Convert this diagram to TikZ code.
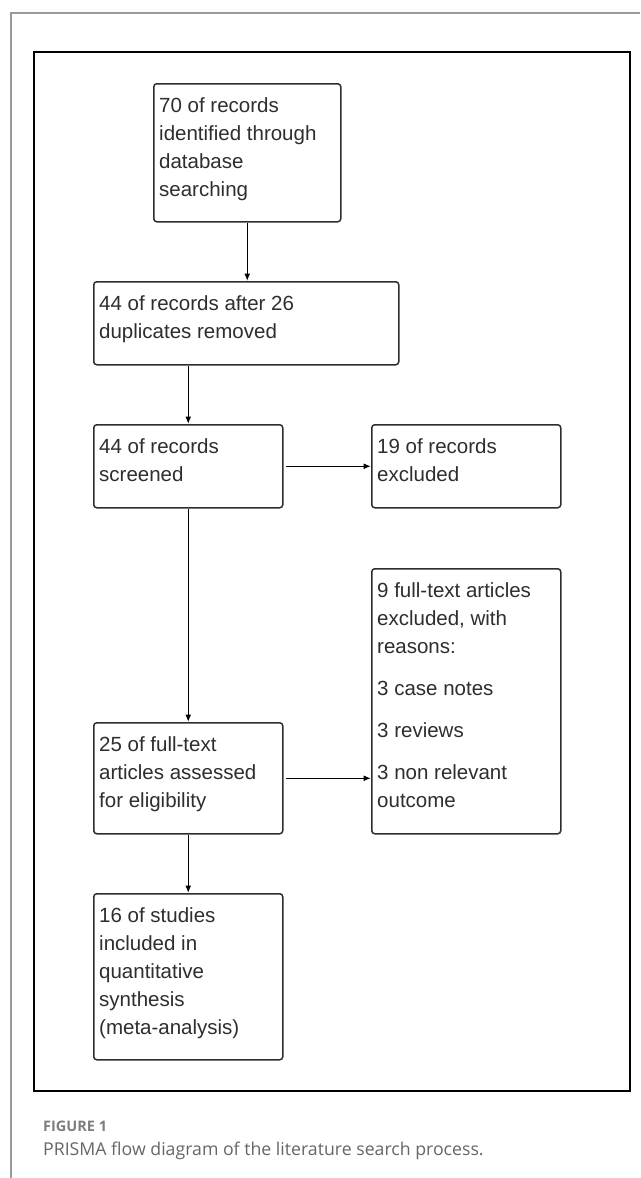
\documentclass[tikz,border=0pt]{standalone}
\usepackage{fontspec}
\setmainfont{Liberation Sans}
\newfontfamily\capfont{Open Sans}
\usetikzlibrary{positioning,calc,arrows.meta}
\definecolor{boxgrey}{HTML}{2E2E2E}
\definecolor{capgrey}{HTML}{666666}
\definecolor{cardgrey}{HTML}{9A9A9A}
\tikzset{
  prismabox/.style={draw=boxgrey,line width=1.5pt,rounded corners=3pt,fill=white,
        inner sep=0pt,anchor=north west},
  prismatext/.style={anchor=north west,inner sep=0pt,align=left,text=boxgrey,
        font=\fontsize{20.5}{28}\selectfont},
  flow/.style={draw=black,line width=1.4pt,-{Latex[length=7.5pt,width=6pt]}}
}
\newcommand{\prismastep}[6]{%
  \node[prismabox,minimum width=#4pt,minimum height=#5pt] (#1) at (#2,#3) {};
  \node[prismatext] (#1-txt) at ($(#1.north west)+(6,9)$) {\rule{0pt}{20pt}#6};
}

\begin{document}
\begin{tikzpicture}[x=1pt,y=-1pt]
  \useasboundingbox (0,0) rectangle (640,1178);
  \draw[cardgrey,line width=1.2pt] (11,1178) -- (11,13) -- (640,13);
  \draw[black,line width=2pt] (34,52) rectangle (630,1091);
  \prismastep{ident}{153}{83}{187}{138}{70 of records\\identified through\\database\\searching}
  \prismastep{dedup}{93}{281}{305}{83}{44 of records after 26\\duplicates removed}
  \prismastep{screen}{93}{424}{189}{83}{44 of records\\screened}
  \prismastep{excl}{371}{424}{189}{83}{19 of records\\excluded}
  \prismastep{reasons}{371}{568}{189}{265}{9 full-text articles\\excluded, with\\reasons:\\[14pt]3 case notes\\[14pt]3 reviews\\[14pt]3 non relevant\\outcome}
  \prismastep{fulltext}{93}{722}{189}{111}{25 of full-text\\articles assessed\\for eligibility}
  \prismastep{incl}{93}{893}{189}{166}{16 of studies\\included in\\quantitative\\synthesis\\(meta-analysis)}
  \draw[flow] (ident.south) -- (ident.south |- dedup.north);
  \draw[flow] (screen.north |- dedup.south) -- (screen.north);
  \draw[flow] ([xshift=2pt]screen.east) -- (screen.east -| excl.west);
  \draw[flow] (screen.south) -- (fulltext.north);
  \draw[flow] ([xshift=2pt]fulltext.east) -- (fulltext.east -| reasons.west);
  \draw[flow] (fulltext.south) -- (incl.north);
  \node[anchor=base west,inner sep=0pt,text=capgrey!85,
        font=\capfont\bfseries\fontsize{14.5}{17}\selectfont] (figlabel) at (43,1131) {FIGURE 1};
  \node[anchor=base west,inner sep=0pt,text=capgrey,
        font=\capfont\fontsize{17.7}{21}\selectfont] (figcaption) at (43,1155)
        {PRISMA flow diagram of the literature search process.};
\end{tikzpicture}
\end{document}
